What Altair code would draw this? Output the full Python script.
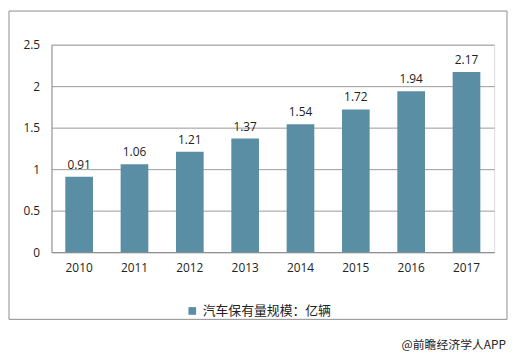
import altair as alt
import pandas as pd

years = ["2010", "2011", "2012", "2013", "2014", "2015", "2016", "2017"]
values = [0.91, 1.06, 1.21, 1.37, 1.54, 1.72, 1.94, 2.17]
series_name = "汽车保有量规模：亿辆"
y_ticks = [0, 0.5, 1, 1.5, 2, 2.5]
footer = "@前瞻经济学人APP"

df = pd.DataFrame({"year": years, "value": values, "series": [series_name] * len(years)})

BAR = "#5A8EA5"
FONT_NUM = "Open Sans"
FONT_CJK = "Noto Sans CJK SC"

base = alt.Chart(df)

x_enc = alt.X("year:N", title=None, sort=years,
              scale=alt.Scale(paddingInner=0.5, paddingOuter=0.25),
              axis=alt.Axis(labelAngle=0, labelFont=FONT_NUM, labelFontSize=12,
                            labelColor="#222", labelPadding=11, ticks=False,
                            domainColor="#8c8c8c", grid=False))
y_enc = alt.Y("value:Q", title=None,
              scale=alt.Scale(domain=[0, 2.5], nice=False),
              axis=alt.Axis(values=y_ticks, labelFont=FONT_NUM, labelFontSize=12,
                            labelColor="#222", labelPadding=12, ticks=False,
                            domainColor="#8c8c8c", gridColor="#9a9a9a",
                            labelExpr="datum.value"))

bars = base.mark_bar(color=BAR).encode(
    x=x_enc,
    y=y_enc,
    color=alt.Color("series:N", scale=alt.Scale(range=[BAR]),
                    legend=alt.Legend(title=None, orient="none", legendX=136, legendY=263,
                                      symbolType="square", symbolSize=60,
                                      labelFont=FONT_CJK, labelFontSize=13,
                                      labelColor="#222")),
)

labels = base.mark_text(baseline="bottom", dy=-5, font=FONT_NUM, fontSize=12,
                        color="#222").encode(
    x=alt.X("year:N", sort=years),
    y="value:Q",
    text=alt.Text("value:Q", format=".2f"),
)

one = alt.Data(values=[{"a": 1}])
border = alt.Chart(one).mark_rect(fillOpacity=0, stroke="#8c8c8c", strokeWidth=1).encode(
    x=alt.value(-43), x2=alt.value(461), y=alt.value(-34), y2=alt.value(278)
)
foot = alt.Chart(one).mark_text(align="right", baseline="middle", font=FONT_CJK,
                                fontSize=12, color="#222").encode(
    x=alt.value(460), y=alt.value(304), text=alt.value(footer)
)

chart = alt.layer(border, bars, labels, foot).properties(
    width=448, height=210,
    autosize=alt.AutoSizeParams(type="none"),
    padding={"left": 44, "top": 35, "right": 14, "bottom": 104},
).configure_view(stroke=None).configure(background="white")

chart.save("out.html", embed_options={"renderer": "svg", "actions": False})
